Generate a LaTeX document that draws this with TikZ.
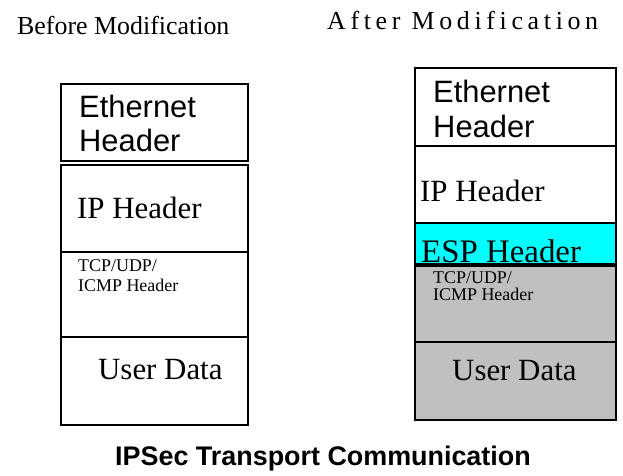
\documentclass[tikz,border=0pt]{standalone}
\usepackage{fontspec}
\setmainfont{Liberation Serif}
\newfontfamily\arialfont{Liberation Sans}
\definecolor{espcyan}{HTML}{00FFFF}
\definecolor{datagray}{HTML}{C0C0C0}
\begin{document}
\begin{tikzpicture}[x=1bp,y=-1bp,
  cell/.style={draw=black,line width=2bp},
  lbl/.style={anchor=base west,inner sep=0pt,font=\fontsize{31}{33}\selectfont},
  albl/.style={anchor=base west,inner sep=0pt,font=\arialfont\fontsize{31}{33}\selectfont},
  smalllbl/.style={anchor=base west,inner sep=0pt,font=\fontsize{18}{20}\selectfont},
  ttl/.style={anchor=base west,inner sep=0pt,font=\fontsize{26}{28}\selectfont}]
\useasboundingbox (0,0) rectangle (623,476);
% titles
\node[ttl] (tb) at (17,35) {Before Modification};
\node[ttl] (ta) at (327,30) {\addfontfeature{LetterSpace=18}After Modification};
% left column
\draw[cell] (61,84) rectangle (248,161);
\draw[cell] (61,165) rectangle (248,252);
\draw[cell] (61,252) rectangle (248,337);
\draw[cell] (61,337) rectangle (248,425);
\node[albl] (le1) at (79,118) {Ethernet};
\node[albl] (le2) at (79,152) {Header};
\node[lbl] (lip) at (77,219) {IP Header};
\node[smalllbl] (lt1) at (78,272) {TCP/UDP/};
\node[smalllbl] (lt2) at (78,292) {ICMP Header};
\node[lbl] (lud) at (98,379) {User Data};
% right column
\draw[cell] (415,68) rectangle (616,146);
\draw[cell] (415,146) rectangle (616,223);
\draw[cell,fill=espcyan] (415,223) rectangle (616,264);
\draw[cell,fill=datagray] (415,266) rectangle (616,342);
\draw[cell,fill=datagray] (415,342) rectangle (616,420);
\node[albl] (re1) at (433,103) {Ethernet};
\node[albl] (re2) at (433,138) {Header};
\node[lbl] (rip) at (420,202) {IP Header};
\node[lbl,font=\fontsize{33}{35}\selectfont] (resp) at (421,263) {ESP Header};
\node[smalllbl] (rt1) at (433,284) {TCP/UDP/};
\node[smalllbl] (rt2) at (433,301) {ICMP Header};
\node[lbl] (rud) at (452,380) {User Data};
% bottom title
\node[anchor=base,inner sep=0pt,font=\arialfont\bfseries\fontsize{27}{29}\selectfont] (cap) at (323,465) {IPSec Transport Communication};
\end{tikzpicture}
\end{document}
